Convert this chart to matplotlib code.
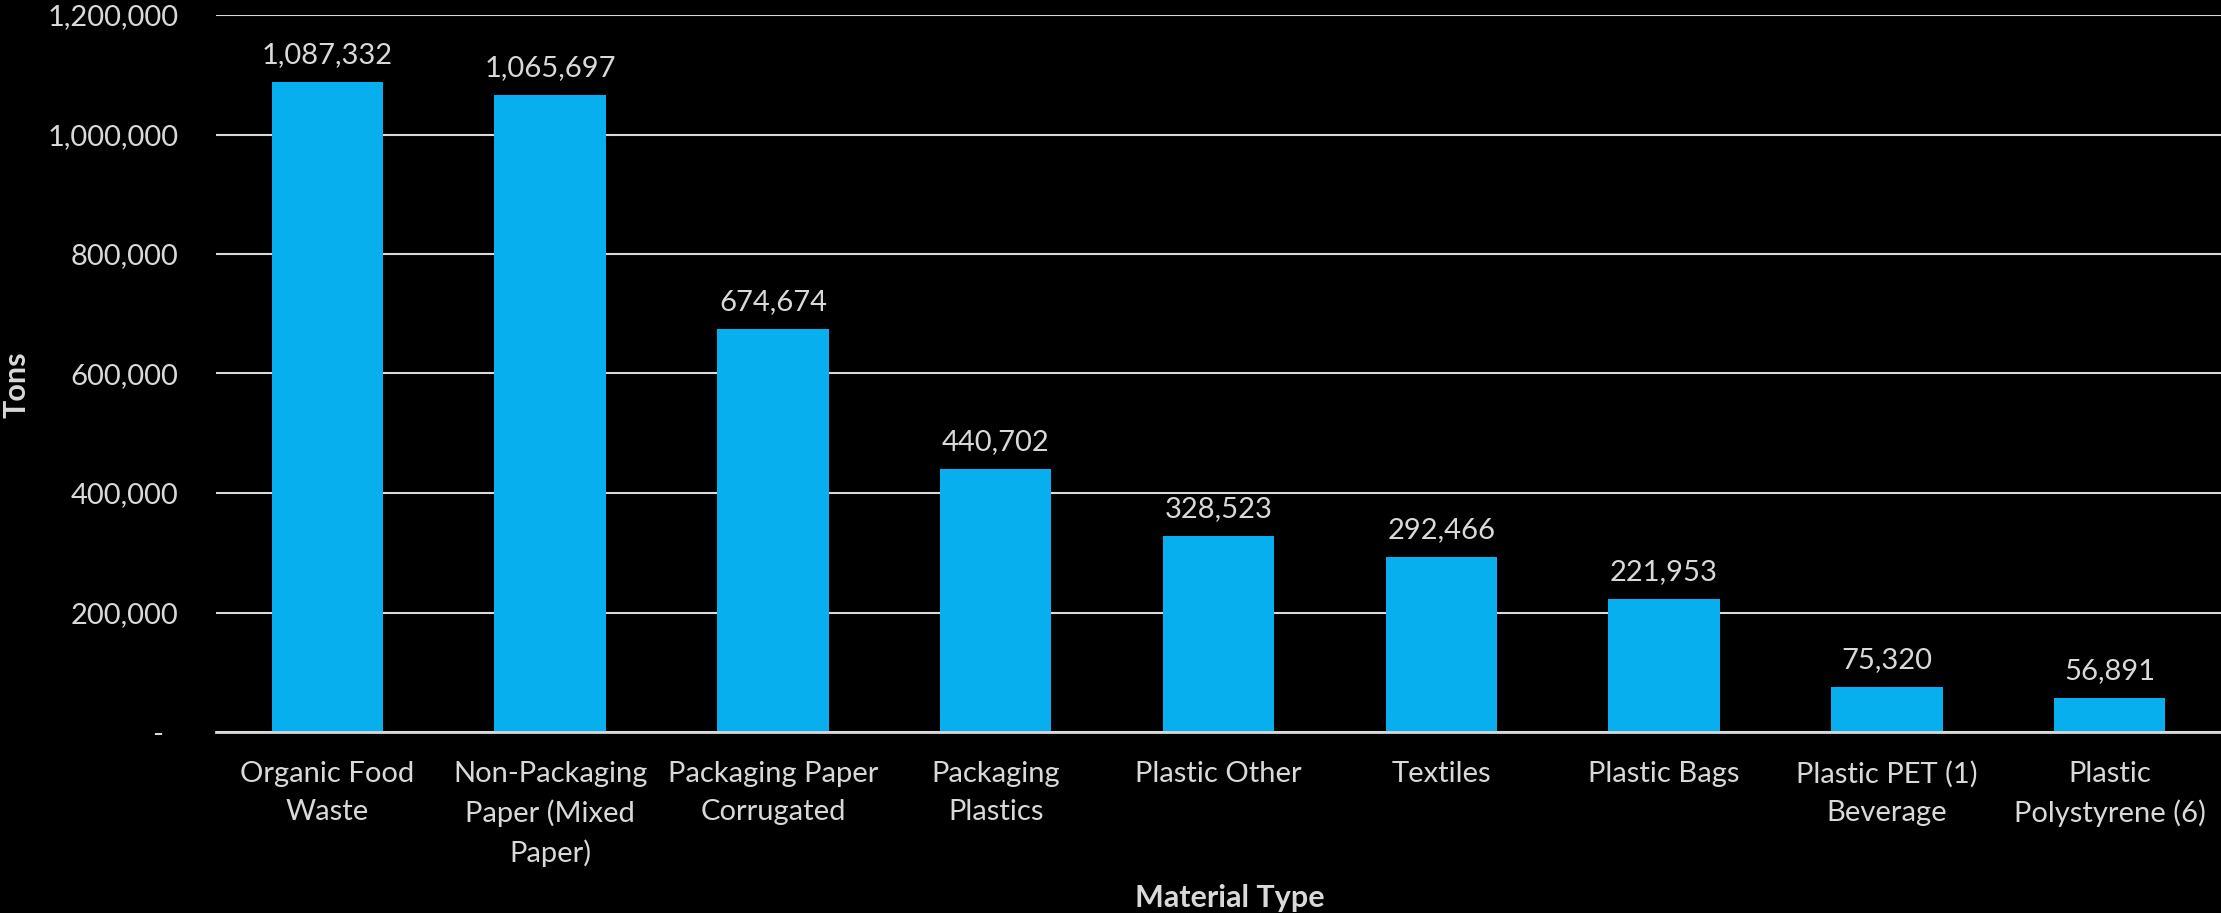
import matplotlib
matplotlib.use("Agg")
from matplotlib import pyplot as plt
from matplotlib.ticker import FuncFormatter
import numpy as np

plt.rcParams['font.family'] = ['Lato', 'DejaVu Sans']

categories = ['Organic Food\nWaste', 'Non-Packaging\nPaper (Mixed\nPaper)', 'Packaging Paper\nCorrugated',
              'Packaging\nPlastics', 'Plastic Other', 'Textiles', 'Plastic Bags',
              'Plastic PET (1)\nBeverage', 'Plastic\nPolystyrene (6)']
tons = [1087332, 1065697, 674674, 440702, 328523, 292466, 221953, 75320, 56891]
y_ticks = [0, 200000, 400000, 600000, 800000, 1000000, 1200000]

text_color = '#D9D9D9'
bar_color = '#08AFEE'

fig = plt.figure(figsize=(22.21, 9.13), dpi=100, facecolor='black')
ax = fig.add_axes([216/2221, 181/913, 2005/2221, 717/913], facecolor='black')

x = np.arange(len(categories))
ax.bar(x, tons, width=0.5, color=bar_color, zorder=3)

for xi, v in zip(x, tons):
    ax.annotate(f'{v:,}', (xi, v), xytext=(0, 10), textcoords='offset points',
                ha='center', va='bottom', color=text_color, fontsize=21)

ax.set_xlim(-0.5, len(categories) - 0.5)
ax.set_ylim(0, 1200000)
ax.set_yticks(y_ticks)
ax.yaxis.set_major_formatter(FuncFormatter(lambda v, p: '-  ' if v == 0 else f'{int(v):,}'))
ax.grid(axis='y', color='#D9D9D9', linewidth=1.5, zorder=0)

ax.set_xticks(x)
ax.set_xticklabels(categories, linespacing=1.55)
ax.tick_params(axis='x', length=0, pad=21, labelsize=21, colors=text_color)
ax.tick_params(axis='y', length=0, pad=27, labelsize=21, colors=text_color)

for s in ['top', 'right', 'left']:
    ax.spines[s].set_visible(False)
ax.spines['bottom'].set_color('#D9D9D9')
ax.spines['bottom'].set_linewidth(2)
ax.spines['bottom'].set_zorder(4)

fig.text(1230/2221, 15/913, 'Material Type',
         ha='center', va='center', color=text_color, fontsize=22, fontweight='bold')
fig.text(17/2221, (913 - 385)/913, 'Tons', rotation=90, ha='center', va='center',
         color=text_color, fontsize=22, fontweight='bold')

fig.savefig('out.png', dpi=100, facecolor='black')
